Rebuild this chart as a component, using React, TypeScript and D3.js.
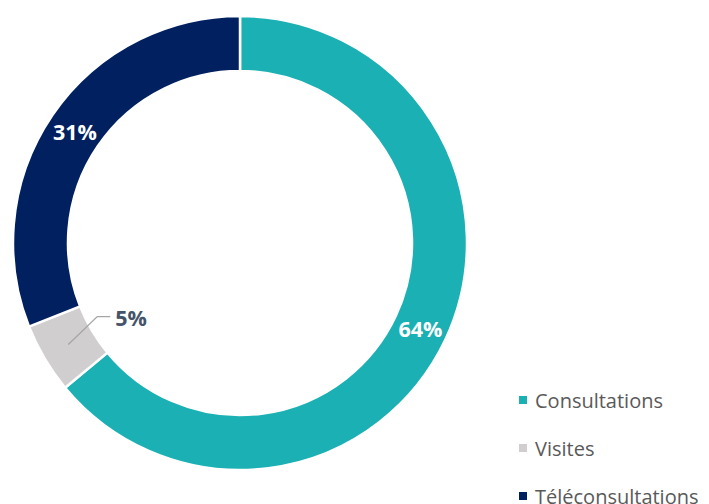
import React, { useEffect, useRef } from "react";
import * as d3 from "d3";

const categories = ["Consultations", "Visites", "Téléconsultations"];
const values = [64, 5, 31];
const colors = ["#1BB0B4", "#D0CECE", "#002060"];

const W = 709;
const H = 504;

export default function App() {
  const ref = useRef<SVGSVGElement | null>(null);

  useEffect(() => {
    const svg = d3.select(ref.current);
    svg.selectAll("*").remove();

    const cx = 240;
    const cy = 243;
    const outer = 227;
    const inner = 172;

    const pie = d3.pie<number>().sort(null).value((d) => d);
    const arcs = pie(values);
    const arc = d3.arc<d3.PieArcDatum<number>>().innerRadius(inner).outerRadius(outer);

    const g = svg.append("g").attr("transform", `translate(${cx},${cy})`);

    g.selectAll("path")
      .data(arcs)
      .join("path")
      .attr("d", arc as any)
      .attr("fill", (_d, i) => colors[i])
      .attr("stroke", "#ffffff")
      .attr("stroke-width", 2.5);

    const font = "'Open Sans', 'Liberation Sans', sans-serif";

    arcs.forEach((a, i) => {
      const [x, y] = arc.centroid(a);
      if (values[i] < 10) {
        // small slice: label outside with a leader line
        const ex = x + 29;
        const ey = y - 28;
        g.append("polyline")
          .attr("points", `${x},${y} ${ex},${ey} ${ex + 13},${ey}`)
          .attr("fill", "none")
          .attr("stroke", "#A6A6A6")
          .attr("stroke-width", 1.3);
        g.append("text")
          .attr("x", ex + 18)
          .attr("y", ey + 1)
          .attr("dominant-baseline", "central")
          .attr("font-family", font)
          .attr("font-weight", 700)
          .attr("font-size", 21.5)
          .attr("fill", "#44546A")
          .text(`${values[i]}%`);
      } else {
        g.append("text")
          .attr("x", x)
          .attr("y", y + 1)
          .attr("text-anchor", "middle")
          .attr("dominant-baseline", "central")
          .attr("font-family", font)
          .attr("font-weight", 700)
          .attr("font-size", 21.5)
          .attr("fill", "#ffffff")
          .text(`${values[i]}%`);
      }
    });

    const legend = svg.append("g");
    categories.forEach((c, i) => {
      const y = 400 + i * 48;
      legend
        .append("rect")
        .attr("x", 519)
        .attr("y", y - 4)
        .attr("width", 8)
        .attr("height", 8)
        .attr("fill", colors[i]);
      legend
        .append("text")
        .attr("x", 535)
        .attr("y", y)
        .attr("dominant-baseline", "central")
        .attr("font-family", font)
        .attr("font-size", 20)
        .attr("fill", "#595959")
        .text(c);
    });
  }, []);

  return (
    <svg
      ref={ref}
      width={W}
      height={H}
      style={{ position: "absolute", left: 0, top: 0, background: "#ffffff" }}
    />
  );
}
